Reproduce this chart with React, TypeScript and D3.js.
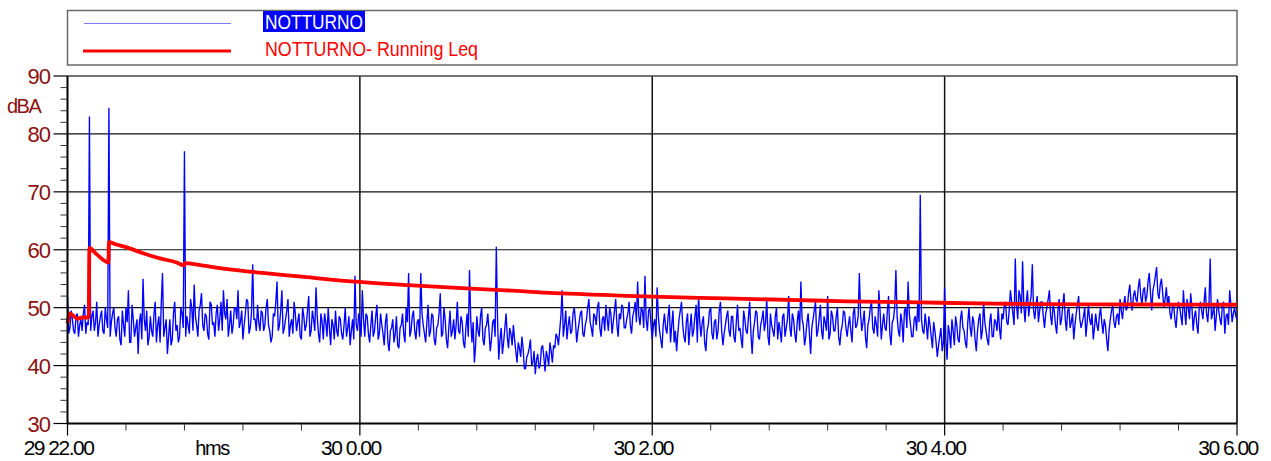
import React from "react";
import * as d3 from "d3";

// Time axis: minutes since 29 22:00 (8 hours, to 30 6:00)
const xTickMinutes = [0, 120, 240, 360, 480];
const xTickLabels = ["29 22.00", "30 0.00", "30 2.00", "30 4.00", "30 6.00"];
const yTicks = [30, 40, 50, 60, 70, 80, 90];

// NOTTURNO: samples on the whole minute (dBA)
const notturno = [
  52, 46.5, 48, 45.5, 49, 47, 46, 50.5, 47.5, 83, 48.5, 46, 51, 47, 49.5, 45.5, 48, 84.5, 47.5, 50,
  45, 48.5, 43.5, 47, 50, 53, 44, 48, 46.5, 42, 49, 55, 46, 43.5, 48.5, 45, 51, 47, 44, 56,
  46.5, 42, 48, 44.5, 51, 47, 45, 49, 77, 48.5, 45.5, 50, 54, 47, 49.5, 52.5, 46, 48.5, 44.5, 50.5,
  47.5, 49, 46, 51, 53, 48, 45, 49.5, 47, 50, 53, 47.5, 44.5, 49, 51, 46.5, 57.5, 48, 50.5, 46,
  49, 47, 51.5, 46, 45, 48.5, 54.5, 47, 53, 46.5, 49.5, 45, 48, 51, 46, 49, 44.5, 48.5, 47, 52,
  46, 48, 53.5, 45.5, 49, 44.5, 47.5, 50, 43.5, 47, 49.5, 45, 48, 44.5, 50, 46.5, 43.5, 48, 55.5, 46,
  47.5, 53, 45, 48.5, 44, 49.5, 46, 50.5, 45.5, 47, 43.5, 49, 42.5, 46.5, 44, 48.5, 43, 47, 45.5, 50,
  56, 46, 49.5, 44.5, 48, 56, 47, 44, 50.5, 46, 48.5, 43.5, 47, 52.5, 45.5, 48, 43, 49.5, 46, 44.5,
  51, 45.5, 47.5, 43, 49, 56.5, 44, 40.5, 48.5, 45, 50, 43.5, 47, 46, 44.5, 48, 60.5, 41, 46.5, 44,
  49, 43, 45.5, 47, 42.5, 44, 41.5, 43, 39.5, 42, 44.5, 40.5, 38.5, 42, 40, 43.5, 39, 41.5, 44, 40.5,
  43, 45, 46, 53, 47, 44.5, 48.5, 46, 50, 44, 47.5, 49.5, 45, 48, 51.5, 46.5, 49, 47, 51, 45,
  48.5, 50.5, 46, 49, 47.5, 51.5, 45, 48, 50, 46.5, 49, 47, 48.5, 51, 54.5, 47, 49.5, 55.5, 46, 50,
  44.5, 48, 53.5, 46, 43, 49, 45.5, 50.5, 47, 44, 42.5, 48, 51, 45, 47.5, 43.5, 49, 46, 50.5, 52,
  45, 48.5, 42.5, 47, 50, 44.5, 48, 46, 51, 43.5, 47, 49.5, 45, 48.5, 44, 50.5, 46.5, 43, 48, 45.5,
  51, 42, 47.5, 49, 44.5, 48, 46, 51.5, 43.5, 47, 45, 50, 47.5, 44, 49, 46.5, 52, 45, 48, 44,
  49.5, 54.5, 47, 45, 49, 42, 48, 51, 46, 50.5, 44.5, 47.5, 52, 45.5, 48.5, 46, 50, 43.5, 47, 49,
  45, 48.5, 44, 50, 47, 56, 46, 49.5, 43, 48, 51, 45.5, 47, 53, 44.5, 49, 46, 52, 43.5, 48,
  56.5, 46, 49, 44, 50, 54.5, 47, 45, 48.5, 51, 69.5, 46, 49, 44.5, 47, 43, 46, 41.5, 45, 42.5,
  53.5, 41, 45.5, 48, 43.5, 47, 44, 49.5, 46, 43, 50, 45, 47.5, 42.5, 48, 44.5, 51, 46, 43.5, 49,
  45, 47.5, 50, 44.5, 48, 51, 47, 53, 49, 58.5, 48, 52, 58, 47.5, 53, 50.5, 57.5, 48, 52, 49.5,
  51, 46.5, 50, 53, 47, 49.5, 45.5, 51.5, 48, 52.5, 46, 50, 47.5, 44.5, 49, 52, 46.5, 48.5, 45, 50.5,
  47, 44.5, 49, 46, 50, 45.5, 47, 42.5, 48, 50.5, 46.5, 49, 51.5, 48, 52, 50, 54, 49.5, 53, 51,
  55, 50.5, 53.5, 52, 56, 49.5, 54, 57, 51.5, 55, 50, 53.5, 52, 48, 50.5, 46.5, 51, 48.5, 53, 47,
  50, 52.5, 46, 49.5, 45.5, 51, 48, 53.5, 47.5, 58.5, 49, 46, 51.5, 48, 50.5, 45.5, 49, 53, 47.5, 50, 48,
];

// NOTTURNO: samples on the half minute (dBA)
const notturnoHalf = [
  45.5, 49.5, 46, 48.5, 45, 48, 49, 45.5, 47, 46, 49.5, 47.5, 45, 48.5, 46, 50, 46.5, 45, 49, 46.5,
  48, 44.5, 49.5, 45, 47.5, 44, 50.5, 45, 48, 47.5, 44.5, 48, 49.5, 45, 46, 49, 44, 48.5, 51, 45,
  48, 45, 43.5, 49, 46, 44, 50, 46.5, 45, 47, 51.5, 46, 48.5, 45, 50.5, 47, 49, 45.5, 51, 47,
  45, 50.5, 48, 46, 49, 51.5, 47, 45.5, 50, 48, 46.5, 49.5, 47, 51.5, 45.5, 49, 48, 46, 47.5, 49.5,
  46, 50, 47, 44, 49, 51, 46, 49.5, 45.5, 48, 51.5, 47, 45.5, 49, 47.5, 45, 50, 46, 49.5, 45,
  49.5, 46, 48.5, 44, 47.5, 49, 45, 46.5, 48, 44.5, 46, 48.5, 45.5, 47, 45, 48.5, 46, 44.5, 47, 49,
  45, 48, 49, 45.5, 47, 45, 48.5, 44.5, 49, 45.5, 47.5, 44, 46, 48, 45.5, 43.5, 46.5, 49, 44, 47.5,
  45, 48.5, 46, 47.5, 45, 49, 45.5, 47.5, 45, 49, 44.5, 46.5, 49, 45, 50, 44.5, 46.5, 45, 48, 47,
  46, 48.5, 44, 46.5, 45, 48, 47.5, 43.5, 46, 48.5, 44.5, 46.5, 49, 42.5, 47.5, 45, 48, 44.5, 42, 46.5,
  45, 46.5, 43.5, 44.5, 40.5, 43, 45, 39.5, 41.5, 43, 40, 42.5, 41, 39.5, 43, 41.5, 42.5, 40, 42.5, 43.5,
  45.5, 43.5, 48.5, 45, 49.5, 47, 45.5, 49, 47.5, 46, 49, 45.5, 47, 50, 47.5, 45, 48.5, 50, 46.5, 48,
  46, 48, 50, 45.5, 49.5, 47, 49, 50.5, 46.5, 48, 51, 45.5, 49.5, 47.5, 48.5, 50, 46.5, 48, 49.5, 47,
  47, 45, 48.5, 44.5, 47, 46.5, 48.5, 44, 49.5, 46, 45.5, 49.5, 47, 44, 49, 46.5, 45, 48.5, 44, 47.5,
  47.5, 44, 46, 49.5, 45.5, 47.5, 44.5, 49.5, 46, 45.5, 48.5, 46, 48.5, 45, 47.5, 46, 44.5, 49.5, 46, 48.5,
  45.5, 46, 49.5, 45, 47, 49.5, 47.5, 45, 49, 46, 48.5, 44.5, 46, 48.5, 45, 48, 46.5, 49, 45.5, 47.5,
  46, 48, 43.5, 47.5, 45.5, 46.5, 49.5, 45, 48, 46, 48.5, 46, 44.5, 49.5, 46, 48.5, 45, 46, 49.5, 46.5,
  47, 46, 49, 46.5, 48.5, 49, 47.5, 45, 47, 50, 46.5, 48.5, 45, 49.5, 47, 46.5, 49.5, 45.5, 47.5, 50,
  48.5, 45, 47.5, 49.5, 46.5, 49, 45, 48, 46, 47.5, 48, 45.5, 47, 48.5, 45, 47.5, 44, 43.5, 46.5, 44,
  44.5, 47, 43, 46, 48.5, 44.5, 48, 46.5, 44, 47.5, 46.5, 48.5, 44.5, 46, 49, 46, 47.5, 44.5, 47.5, 45,
  48, 46, 46.5, 49, 50.5, 47.5, 49.5, 51, 47, 50.5, 53, 49, 50.5, 51, 48.5, 52, 49.5, 50.5, 47.5, 51,
  48.5, 49, 51.5, 48.5, 50.5, 47, 49.5, 47, 50.5, 48, 49.5, 46.5, 49, 47, 50.5, 48, 47.5, 50, 47.5, 48,
  49, 46.5, 47, 48.5, 47.5, 48, 44.5, 46, 49.5, 47.5, 48.5, 47, 49.5, 50.5, 49.5, 52.5, 51, 52, 51.5, 53.5,
  52, 53, 51, 54.5, 52.5, 53, 55.5, 52.5, 54, 52.5, 51.5, 50.5, 49, 50, 48, 49.5, 50, 47, 49.5, 51.5,
  48, 50, 48.5, 47, 50, 49.5, 51, 49, 50.5, 48, 50.5, 48.5, 49.5, 47, 51, 48.5, 47, 50.5, 49, 48.5,
];

// NOTTURNO - Running Leq: minute and dBA
const runningMinutes = [0, 1, 3, 4, 6, 8.7, 9, 12, 16.8, 17, 20, 24.3, 31, 38, 44.8, 47.8, 48, 55, 65, 80, 95, 118, 140, 160, 180, 200, 220, 240, 270, 300, 320, 350, 380, 400, 440, 480];
const runningLeq = [47.3, 49, 48.4, 48.1, 48.3, 48.3, 60.3, 59.2, 57.8, 61.3, 60.9, 60.4, 59.4, 58.5, 57.8, 57.3, 57.7, 57.3, 56.7, 56.0, 55.4, 54.5, 53.9, 53.4, 53.0, 52.5, 52.2, 51.9, 51.6, 51.3, 51.1, 50.9, 50.7, 50.6, 50.55, 50.5];

const W = 1271;
const H = 461;
const LEFT = 67.5;
const RIGHT = 1237;
const TOP = 76;
const BOTTOM = 423.5;
const FONT = "'Liberation Sans', Arial, sans-serif";
const DARKRED = "#8B1010";

export default function App() {
  const x = d3.scaleLinear().domain([0, 480]).range([LEFT, RIGHT]);
  const y = d3.scaleLinear().domain([30, 90]).range([BOTTOM, TOP]);

  const step = 480 / (notturno.length - 1);
  const samples: [number, number][] = [];
  notturno.forEach((v, i) => {
    samples.push([i * step, v]);
    if (i < notturnoHalf.length && i < notturno.length - 1) {
      samples.push([(i + 0.5) * step, notturnoHalf[i]]);
    }
  });

  const blueLine = d3
    .line<[number, number]>()
    .x((d) => x(d[0]))
    .y((d) => y(d[1]));
  const redLine = d3
    .line<number>()
    .x((_, i) => x(runningMinutes[i]))
    .y((d) => y(d))
    .curve(d3.curveMonotoneX);

  const minorX = d3.range(0, 481, 24).filter((m) => m % 120 !== 0);
  const minorY = d3.range(30, 91, 2).filter((v) => v % 10 !== 0);

  return (
    <svg
      width={W}
      height={H}
      style={{ position: "absolute", left: 0, top: 0, background: "#fff" }}
      fontFamily={FONT}
    >
      {/* Legend */}
      <rect x={67.5} y={10.5} width={1169.5} height={54.5} fill="#fff" stroke="#6a6a6a" strokeWidth={1.5} />
      <line x1={84} x2={231} y1={23.5} y2={23.5} stroke="#7b7bff" strokeWidth={1.2} />
      <rect x={263} y={11} width={102} height={21} fill="#0000ff" />
      <text x={265} y={28.5} fill="#fff" fontSize={20} textLength={98} lengthAdjust="spacingAndGlyphs">
        NOTTURNO
      </text>
      <line x1={83} x2={231} y1={51} y2={51} stroke="#ff0000" strokeWidth={3} />
      <text x={265} y={55.5} fill="#ff0000" fontSize={20} textLength={213} lengthAdjust="spacingAndGlyphs">
        NOTTURNO- Running Leq
      </text>

      {/* Horizontal grid */}
      {yTicks
        .filter((v) => v !== 30 && v !== 90)
        .map((v) => (
          <line key={"gy" + v} x1={LEFT} x2={RIGHT} y1={y(v)} y2={y(v)} stroke="#111" strokeWidth={1.2} />
        ))}
      {/* Vertical grid */}
      {xTickMinutes
        .filter((m) => m !== 0 && m !== 480)
        .map((m) => (
          <line key={"gx" + m} x1={x(m)} x2={x(m)} y1={TOP} y2={BOTTOM} stroke="#111" strokeWidth={1.5} />
        ))}

      {/* Plot frame */}
      <line x1={LEFT} x2={RIGHT} y1={TOP} y2={TOP} stroke="#444" strokeWidth={1.5} />
      <line x1={RIGHT} x2={RIGHT} y1={TOP} y2={BOTTOM} stroke="#222" strokeWidth={1.8} />

      {/* Data */}
      <path d={blueLine(samples) || ""} fill="none" stroke="#0000ff" strokeWidth={1.35} strokeLinejoin="miter" />
      <path d={redLine(runningLeq) || ""} fill="none" stroke="#ff0000" strokeWidth={3.8} strokeLinejoin="round" />

      {/* Axes */}
      <line x1={LEFT} x2={LEFT} y1={TOP} y2={BOTTOM + 1} stroke="#000" strokeWidth={2} />
      <line x1={LEFT} x2={RIGHT} y1={BOTTOM} y2={BOTTOM} stroke="#000" strokeWidth={2} />

      {/* Y ticks */}
      {yTicks.map((v) => (
        <g key={"yt" + v}>
          <line x1={LEFT - 14} x2={LEFT} y1={y(v)} y2={y(v)} stroke="#000" strokeWidth={1.2} />
          <text x={50} y={y(v) + 8} textAnchor="end" fill={DARKRED} fontSize={22} letterSpacing={-1}>
            {v}
          </text>
        </g>
      ))}
      {minorY.map((v) => (
        <line key={"ym" + v} x1={LEFT - 7} x2={LEFT} y1={y(v)} y2={y(v)} stroke="#333" strokeWidth={1} />
      ))}
      <text x={7} y={113} fill={DARKRED} fontSize={20} letterSpacing={-1.5}>
        dBA
      </text>

      {/* X ticks */}
      {xTickMinutes.map((m, i) => (
        <g key={"xt" + m}>
          <line x1={x(m)} x2={x(m)} y1={BOTTOM} y2={BOTTOM + 12} stroke="#000" strokeWidth={1.2} />
          <text x={x(m) - 9} y={455} textAnchor="middle" fill="#000" fontSize={21} letterSpacing={-1.5}>
            {xTickLabels[i]}
          </text>
        </g>
      ))}
      {minorX.map((m) => (
        <line key={"xm" + m} x1={x(m)} x2={x(m)} y1={BOTTOM} y2={BOTTOM + 7} stroke="#333" strokeWidth={1} />
      ))}
      <text x={212} y={455} textAnchor="middle" fill="#000" fontSize={20} letterSpacing={-1.5}>
        hms
      </text>
    </svg>
  );
}
